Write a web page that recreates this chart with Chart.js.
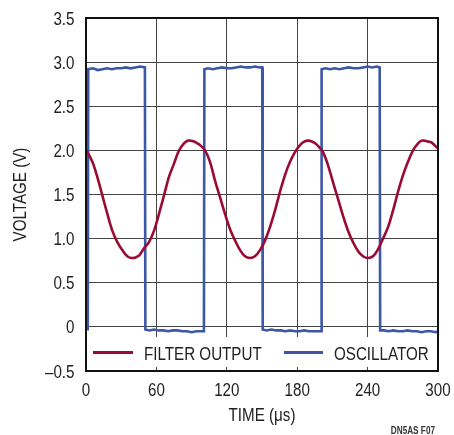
<!DOCTYPE html>
<html>
<head>
<meta charset="utf-8">
<script src="https://cdn.jsdelivr.net/npm/chart.js@4"></script>
<style>
  html, body { margin: 0; padding: 0; background: #ffffff; }
  canvas { display: block; }
</style>
</head>
<body>
<canvas id="scope" width="454" height="435"></canvas>
<script>
// Filter output trace (time in µs, voltage in V)
const filterTime = [0, 5.4, 9.6, 13.9, 18.2, 22.4, 26.7, 30.9, 35.2, 39.5, 45.2, 49.4, 53.7, 58, 62.2, 66.5, 70.7, 75, 79.3, 83.5, 86.5, 89.2, 92, 94.9, 97.2, 101.4, 105.7, 109.9, 114.2, 118.5, 122.7, 127, 131.3, 135.5, 139.8, 144, 148.3, 152.6, 156.8, 161.1, 165.3, 169.6, 173.9, 178.1, 182.4, 186, 189.5, 192.5, 195.2, 198.5, 202, 206.3, 210.5, 214.8, 219, 223.3, 227.6, 231.8, 236.1, 240.3, 244.6, 248.9, 253.1, 257.4, 261.7, 265.9, 270.2, 274.4, 278.7, 283, 286, 288.6, 291.5, 294.3, 298.6, 300];
const filterVolt = [2.01, 1.87, 1.70, 1.49, 1.28, 1.09, 0.96, 0.87, 0.80, 0.78, 0.81, 0.89, 0.96, 1.09, 1.28, 1.49, 1.70, 1.85, 2.00, 2.08, 2.11, 2.11, 2.10, 2.08, 2.06, 2.00, 1.87, 1.66, 1.47, 1.28, 1.11, 0.98, 0.87, 0.80, 0.78, 0.80, 0.87, 0.98, 1.13, 1.32, 1.53, 1.72, 1.87, 1.98, 2.06, 2.10, 2.11, 2.10, 2.08, 2.04, 1.98, 1.83, 1.64, 1.45, 1.26, 1.09, 0.96, 0.86, 0.80, 0.78, 0.80, 0.88, 1.00, 1.13, 1.32, 1.53, 1.72, 1.87, 2.00, 2.08, 2.11, 2.11, 2.10, 2.09, 2.04, 2.02];

// Oscillator square wave trace (time in µs, voltage in V)
const oscTime = [1.5, 1.9, 6, 10, 14, 18, 22, 26, 30, 34, 38, 42, 46, 50.2,
                 50.6, 54, 58, 62, 66, 70, 74, 78, 82, 86, 90, 94, 98, 100.5,
                 100.9, 104, 108, 112, 116, 120, 124, 128, 132, 136, 140, 144, 148, 150.2,
                 150.6, 154, 158, 162, 166, 170, 174, 178, 182, 186, 190, 194, 198, 200.4,
                 200.8, 204, 208, 212, 216, 220, 224, 228, 232, 236, 240, 244, 248, 250.3,
                 250.7, 254, 258, 262, 266, 270, 274, 278, 282, 286, 290, 294, 298, 300];
const oscVolt = [-0.04, 2.92, 2.93, 2.91, 2.92, 2.93, 2.92, 2.93, 2.93, 2.94, 2.93, 2.94, 2.95, 2.94,
                 -0.03, -0.04, -0.03, -0.04, -0.04, -0.05, -0.04, -0.04, -0.05, -0.05, -0.06, -0.05, -0.05, -0.05,
                 2.92, 2.93, 2.92, 2.93, 2.94, 2.93, 2.93, 2.94, 2.95, 2.94, 2.94, 2.95, 2.94, 2.94,
                 -0.03, -0.04, -0.03, -0.04, -0.04, -0.05, -0.04, -0.05, -0.05, -0.04, -0.05, -0.05, -0.05, -0.05,
                 2.92, 2.93, 2.92, 2.93, 2.92, 2.93, 2.94, 2.93, 2.93, 2.94, 2.95, 2.94, 2.95, 2.94,
                 -0.04, -0.04, -0.05, -0.04, -0.05, -0.05, -0.04, -0.05, -0.05, -0.06, -0.05, -0.05, -0.06, -0.05];

const seriesNames = ['FILTER OUTPUT', 'OSCILLATOR'];
const xTickLabels = ['0', '60', '120', '180', '240', '300'];
const yTickLabels = ['\u20130.5', '0', '0.5', '1.0', '1.5', '2.0', '2.5', '3.0', '3.5'];
const xTitle = 'TIME (\u03bcs)';
const yTitle = 'VOLTAGE (V)';
const figureTag = 'DN5AS F07';

// Narrow sans: Liberation Sans squeezed horizontally
const FONT = "'Liberation Sans', Arial, sans-serif";
const SQUEEZE = 0.82;
const TEXT = '#222222';

const toPoints = (xs, ys) => xs.map((x, i) => ({ x: x, y: ys[i] }));

function narrowText(ctx, str, x, y, opts) {
  ctx.save();
  ctx.font = opts.font;
  ctx.fillStyle = opts.color || TEXT;
  ctx.textAlign = opts.align || 'left';
  ctx.textBaseline = opts.baseline || 'alphabetic';
  ctx.translate(x, y);
  if (opts.rotate) ctx.rotate(opts.rotate);
  ctx.scale(SQUEEZE, 1);
  ctx.fillText(str, 0, 0);
  ctx.restore();
}

// Axis text, frame, in-plot legend panel and figure tag
const scopeDecor = {
  id: 'scopeDecor',
  beforeDatasetsDraw(chart) {
    const { ctx, chartArea: a, scales: { y } } = chart;
    const top = y.getPixelForValue(-0.115);
    const bottom = y.getPixelForValue(-0.455);
    ctx.save();
    ctx.fillStyle = '#ffffff';
    ctx.fillRect(a.left + 1, top, a.right - a.left - 2, bottom - top);
    ctx.restore();
  },
  afterDatasetsDraw(chart) {
    const { ctx, chartArea: a, scales: { x, y } } = chart;
    const f = '18.5px ' + FONT;

    // legend entries inside the plot
    const ly = Math.round(y.getPixelForValue(-0.285)) + 0.5;
    const entries = [
      { x0: a.left + 7, x1: a.left + 47, tx: a.left + 58 },
      { x0: a.left + 198, x1: a.left + 237, tx: a.left + 248 }
    ];
    chart.data.datasets.forEach((ds, i) => {
      const e = entries[i];
      ctx.save();
      ctx.strokeStyle = ds.borderColor;
      ctx.lineWidth = 3;
      ctx.beginPath();
      ctx.moveTo(e.x0, ly);
      ctx.lineTo(e.x1, ly);
      ctx.stroke();
      ctx.restore();
      narrowText(ctx, ds.label, e.tx, ly + 7.5, { font: f });
    });

    // plot frame
    ctx.save();
    ctx.strokeStyle = '#111111';
    ctx.lineWidth = 2;
    ctx.strokeRect(a.left, a.top, a.right - a.left, a.bottom - a.top);
    ctx.restore();

    // tick labels
    x.ticks.forEach((t, i) => {
      narrowText(ctx, xTickLabels[i], x.getPixelForTick(i), a.bottom + 24.5, { font: f, align: 'center' });
    });
    y.ticks.forEach((t, i) => {
      narrowText(ctx, yTickLabels[i], a.left - 11.5, y.getPixelForTick(i) + 6.5, { font: f, align: 'right' });
    });

    // axis titles
    narrowText(ctx, xTitle, (a.left + a.right) / 2, a.bottom + 50, { font: f, align: 'center' });
    narrowText(ctx, yTitle, 26, (a.top + a.bottom) / 2, { font: f, align: 'center', rotate: -Math.PI / 2 });

    // figure tag
    narrowText(ctx, figureTag, chart.width - 19, chart.height - 9, { font: 'bold 10px ' + FONT, color: '#333333', align: 'right', baseline: 'top' });
  }
};

new Chart(document.getElementById('scope'), {
  type: 'line',
  data: {
    datasets: [
      {
        label: seriesNames[0],
        data: toPoints(filterTime, filterVolt),
        borderColor: '#9a0b33',
        borderWidth: 2.6,
        pointRadius: 0,
        tension: 0.35,
        fill: false
      },
      {
        label: seriesNames[1],
        data: toPoints(oscTime, oscVolt),
        borderColor: '#3c57a8',
        borderWidth: 2.6,
        pointRadius: 0,
        tension: 0,
        fill: false
      }
    ]
  },
  options: {
    responsive: false,
    animation: false,
    layout: { padding: { top: 18, right: 16, left: 0, bottom: 0 } },
    plugins: {
      legend: { display: false },
      tooltip: { enabled: false }
    },
    scales: {
      x: {
        type: 'linear',
        min: 0,
        max: 300,
        afterFit(scale) {
          scale.height = 64;
          scale.paddingLeft = 0;
          scale.paddingRight = 0;
        },
        ticks: { stepSize: 60, display: false },
        grid: { color: '#444444', lineWidth: 1, drawTicks: false },
        border: { display: false }
      },
      y: {
        min: -0.5,
        max: 3.5,
        afterFit(scale) {
          scale.width = 86;
          scale.paddingTop = 0;
          scale.paddingBottom = 0;
        },
        ticks: { stepSize: 0.5, display: false },
        grid: { color: '#444444', lineWidth: 1, drawTicks: false },
        border: { display: false }
      }
    }
  },
  plugins: [scopeDecor]
});
</script>
</body>
</html>
